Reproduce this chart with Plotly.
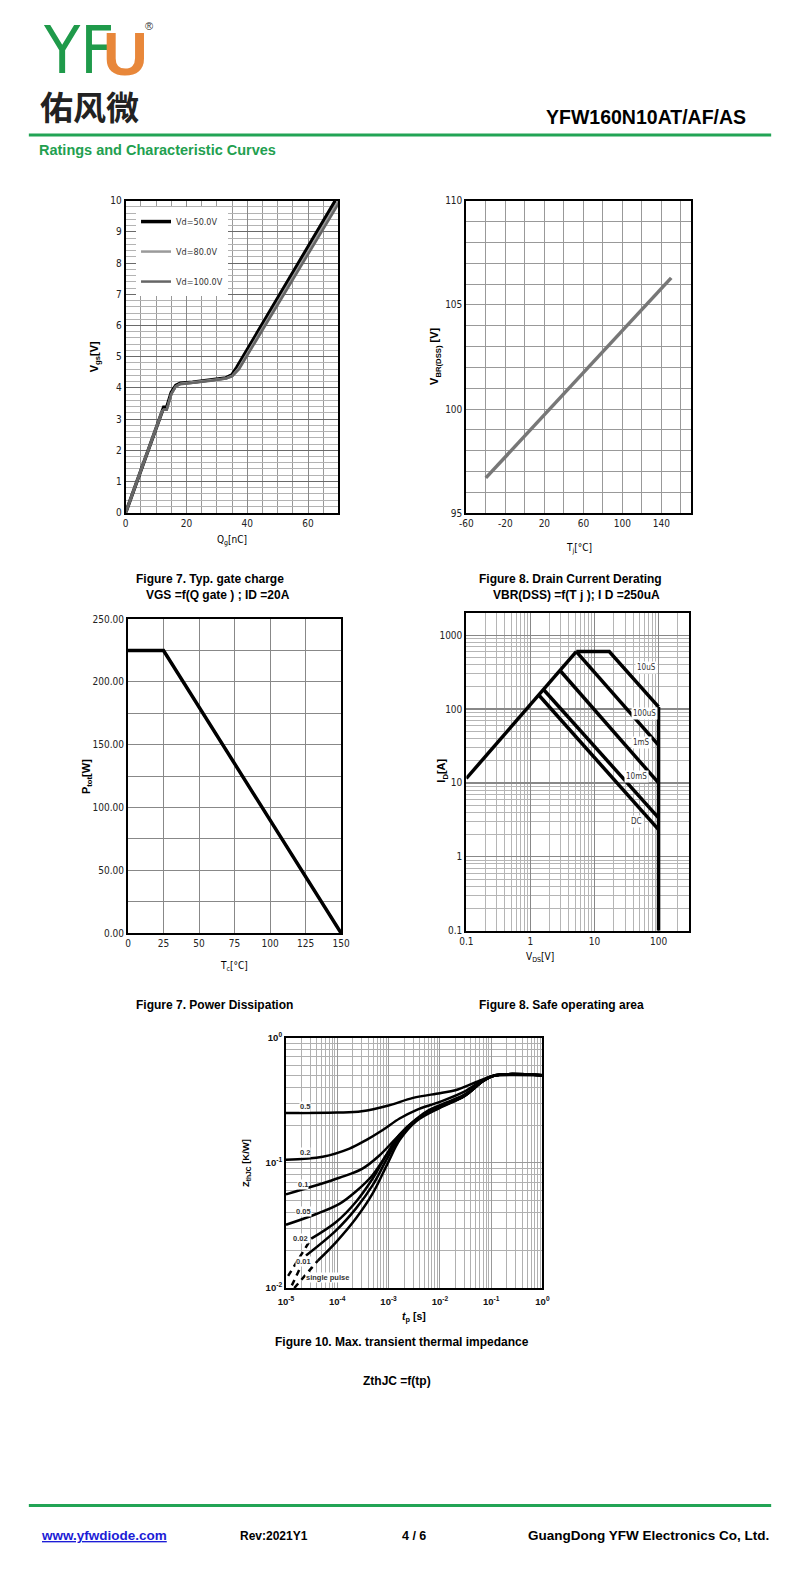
import plotly.graph_objects as go
import numpy as np

W, H = 800, 1590
# calibration of page position -> figure position (measured from previous renders)
def fx(x): return ((x - 9.2) / 0.977) / W
def fy(y): return 1 - ((y - 7.3) / 0.990) / H

NARROW = "Liberation Sans Narrow, Arial Narrow, DejaVu Sans Condensed, sans-serif"
ARIAL = "Liberation Sans, Arial, sans-serif"

# ---------------- data ----------------
# Figure 7: gate charge
qg_50 = [0, 12, 12.5, 13.5, 15, 16.5, 18, 22, 28, 33, 35, 36.5, 69]
vgs_50 = [0, 3.3, 3.38, 3.38, 3.85, 4.08, 4.15, 4.18, 4.25, 4.32, 4.42, 4.65, 10]
qg_80 = [0, 12, 12.5, 13.5, 15, 16.5, 18, 22, 28, 33, 35, 37, 70]
vgs_80 = [0, 3.25, 3.3, 3.3, 3.8, 4.05, 4.13, 4.17, 4.24, 4.3, 4.38, 4.6, 10]
qg_100 = [0, 12, 12.5, 13.5, 15, 16.5, 18, 22, 28, 33, 35, 37.3, 70.3]
vgs_100 = [0, 3.25, 3.3, 3.3, 3.8, 4.05, 4.12, 4.16, 4.23, 4.3, 4.37, 4.6, 9.95]
gate_names = ["Vd=50.0V", "Vd=80.0V", "Vd=100.0V"]

# Figure 8: VBR(DSS) vs Tj
tj = [-40, 150]
vbr = [96.7, 106.3]
tj_ticks = [-60, -20, 20, 60, 100, 140]
tj_ticktext = ["-60", "-20", "20", "60", "100", "140"]

# Power dissipation
tc = [0, 25, 150]
ptot = [225, 225, 0]

# Safe operating area
rds_v, rds_i = [0.1, 5.2], [11.5, 600]
us10_v, us10_i = [5.2, 17, 100], [600, 600, 107]
us100_v, us100_i = [5.2, 100], [600, 32.6]
ms1_v, ms1_i = [2.9, 100], [333, 10]
ms10_v, ms10_i = [1.6, 100], [184, 3.37]
dc_v, dc_i = [1.35, 100], [155, 2.34]
lim_v, lim_i = [100, 100], [0.1, 107]
soa_labels = ["10uS", "100uS", "1mS", "10mS", "DC"]
soa_label_v = [64, 61, 55, 46, 46]
soa_label_i = [360, 87, 35, 12.4, 3.05]

# Thermal impedance
t_05 = [1e-5, 1e-4, 3e-4, 1e-3, 3e-3, 1e-2, 2e-2, 5e-2, 1e-1, 1.5e-1, 1]
z_05 = [0.25, 0.252, 0.258, 0.287, 0.33, 0.36, 0.38, 0.44, 0.49, 0.5, 0.5]
t_02 = [1e-5, 5.2e-5, 1.73e-4, 3.65e-4, 7.7e-4, 1.64e-3, 3.46e-3, 1e-2, 3e-2, 7e-2, 1.2e-1, 1]
z_02 = [0.106, 0.112, 0.13, 0.152, 0.183, 0.226, 0.264, 0.307, 0.37, 0.46, 0.5, 0.5]
t_01 = [1e-5, 1.1e-4, 3.1e-4, 6.7e-4, 1.4e-3, 3e-3, 5.4e-3, 1e-2, 3e-2, 7e-2, 1.2e-1, 1]
z_01 = [0.056, 0.076, 0.09, 0.115, 0.157, 0.213, 0.256, 0.289, 0.35, 0.45, 0.5, 0.5]
t_005 = [1e-5, 3.9e-5, 1.1e-4, 2.3e-4, 4.9e-4, 9e-4, 1.64e-3, 3.46e-3, 1e-2, 3e-2, 7e-2, 1.2e-1, 1]
z_005 = [0.032, 0.039, 0.047, 0.059, 0.08, 0.115, 0.166, 0.22, 0.28, 0.345, 0.45, 0.5, 0.5]
t_002 = [3.1e-5, 9.5e-5, 2.3e-4, 4.9e-4, 9e-4, 1.64e-3, 3.46e-3, 1e-2, 3e-2, 7e-2, 1.2e-1, 1]
z_002 = [0.0248, 0.0337, 0.0487, 0.075, 0.115, 0.168, 0.222, 0.28, 0.342, 0.45, 0.5, 0.5]
t_001 = [2.46e-5, 9.5e-5, 2.3e-4, 4.9e-4, 9e-4, 1.64e-3, 3.46e-3, 1e-2, 3e-2, 7e-2, 1.2e-1, 1]
z_001 = [0.0182, 0.0289, 0.0431, 0.0663, 0.105, 0.161, 0.22, 0.278, 0.34, 0.45, 0.5, 0.5]
t_sp = [4.2e-5, 9.5e-5, 2.3e-4, 4.9e-4, 9.6e-4, 1.64e-3, 3.46e-3, 1e-2, 3e-2, 7e-2, 1.2e-1, 1]
z_sp = [0.0166, 0.0233, 0.0359, 0.0569, 0.099, 0.152, 0.215, 0.275, 0.34, 0.45, 0.5, 0.5]
# dashed extrapolations
t_002d, z_002d = [1.1e-5, 3.1e-5], [0.0125, 0.0248]
t_001d, z_001d = [1.3e-5, 2.46e-5], [0.0105, 0.0182]
t_spd, z_spd = [1.45e-5, 4.2e-5], [0.01, 0.0166]
zth_labels = ["0.5", "0.2", "0.1", "0.05", "0.02", "0.01", "single pulse"]
zth_label_t = [2.3e-5, 2.3e-5, 2.1e-5, 2.2e-5, 1.9e-5, 2.2e-5, 6.5e-5]
zth_label_z = [0.28, 0.12, 0.067, 0.0406, 0.0251, 0.0163, 0.01225]
zth_ticks_x = [1e-5, 1e-4, 1e-3, 1e-2, 1e-1, 1]
zth_ticktext_x = ["10<sup>-5</sup>", "10<sup>-4</sup>", "10<sup>-3</sup>",
                  "10<sup>-2</sup>", "10<sup>-1</sup>", "10<sup>0</sup>"]
zth_ticks_y = [1e-2, 1e-1, 1]
zth_ticktext_y = ["10<sup>-2</sup>", "10<sup>-1</sup>", "10<sup>0</sup>"]

fig = go.Figure()

# ---- gate charge traces ----
fig.add_trace(go.Scatter(x=qg_50, y=vgs_50, mode="lines", name=gate_names[0], legendgroup="a",
                         line=dict(color="black", width=3.5), xaxis="x", yaxis="y"))
fig.add_trace(go.Scatter(x=qg_80, y=vgs_80, mode="lines", name=gate_names[1], legendgroup="b",
                         line=dict(color="#9a9a9a", width=2.5), xaxis="x", yaxis="y"))
fig.add_trace(go.Scatter(x=qg_100, y=vgs_100, mode="lines", name=gate_names[2], legendgroup="c",
                         line=dict(color="#666666", width=2.5), xaxis="x", yaxis="y"))

# ---- VBR ----
fig.add_trace(go.Scatter(x=tj, y=vbr, mode="lines", showlegend=False,
                         line=dict(color="#777777", width=3.5), xaxis="x2", yaxis="y2"))
# ---- Power dissipation ----
fig.add_trace(go.Scatter(x=tc, y=ptot, mode="lines", showlegend=False,
                         line=dict(color="black", width=3.5), xaxis="x3", yaxis="y3"))
# ---- SOA ----
for vv, ii in [(rds_v, rds_i), (us10_v, us10_i), (us100_v, us100_i), (ms1_v, ms1_i),
               (ms10_v, ms10_i), (dc_v, dc_i), (lim_v, lim_i)]:
    fig.add_trace(go.Scatter(x=vv, y=ii, mode="lines", showlegend=False,
                             line=dict(color="black", width=3.5), xaxis="x4", yaxis="y4"))
# ---- Thermal ----
for tt, zz in [(t_05, z_05), (t_02, z_02), (t_01, z_01), (t_005, z_005),
               (t_002, z_002), (t_001, z_001), (t_sp, z_sp)]:
    fig.add_trace(go.Scatter(x=tt, y=zz, mode="lines", showlegend=False, line_shape="spline",
                             line=dict(color="black", width=2.5), xaxis="x5", yaxis="y5"))
for tt, zz in [(t_002d, z_002d), (t_001d, z_001d), (t_spd, z_spd)]:
    fig.add_trace(go.Scatter(x=tt, y=zz, mode="lines", showlegend=False,
                             line=dict(color="black", width=2.5, dash="6px,5px"), xaxis="x5", yaxis="y5"))

tickf = dict(family=NARROW, size=10, color="#222")

def lin_axis(domain, anchor, rng, dtick, tick0, grid, minor_dtick, minor_grid, **kw):
    d = dict(domain=domain, anchor=anchor, range=rng, dtick=dtick, tick0=tick0,
             showgrid=True, gridcolor=grid, gridwidth=1, zeroline=False,
             showline=True, linecolor="black", linewidth=2, mirror=True, ticks="",
             tickfont=tickf, fixedrange=True)
    if minor_dtick:
        d["minor"] = dict(dtick=minor_dtick, tick0=tick0, showgrid=True, gridcolor=minor_grid, gridwidth=1)
    d.update(kw)
    return d

layout = dict(
    width=W, height=H, margin=dict(l=0, r=0, t=0, b=0),
    paper_bgcolor="white", plot_bgcolor="white",
    showlegend=True,
    legend=dict(x=fx(137), y=fy(207), xanchor="left", yanchor="top", bgcolor="white",
                font=dict(family=NARROW, size=9, color="#333"), itemwidth=30,
                tracegroupgap=11, borderwidth=0),
)
layout["xaxis"] = lin_axis([fx(126.7), fx(339)], "y", [0, 70], 20, 0, "#888", 5, "#999")
layout["yaxis"] = lin_axis([fy(512), fy(200.7)], "x", [0, 10], 1, 0, "#6a6a6a", 0.2, "#b3b3b3")
layout["xaxis2"] = lin_axis([fx(466.7), fx(690.7)], "y2", [-60, 170], 40, -60, "#999", 20, "#999",
                            tickmode="array", tickvals=tj_ticks, ticktext=tj_ticktext)
layout["yaxis2"] = lin_axis([fy(512.7), fy(200.7)], "x2", [95, 110], 5, 95, "#999", 1, "#999")
layout["xaxis3"] = lin_axis([fx(129), fx(341.7)], "y3", [0, 150], 25, 0, "#888", None, None)
layout["yaxis3"] = lin_axis([fy(931.7), fy(618.3)], "x3", [0, 250], 50, 0, "#888", 25, "#888",
                            tickformat=".2f")

def log_axis(domain, anchor, rng, tickvals, ticktext, font, grid, minor_grid):
    return dict(domain=domain, anchor=anchor, type="log", range=rng, tickvals=tickvals,
                ticktext=ticktext, showgrid=True, gridcolor=grid, gridwidth=1.2, zeroline=False,
                showline=True, linecolor="black", linewidth=2, mirror=True, ticks="",
                tickfont=font, fixedrange=True,
                minor=dict(dtick="D1", showgrid=True, gridcolor=minor_grid, gridwidth=1, ticks=""))

layout["xaxis4"] = log_axis([fx(466.7), fx(689.3)], "y4", [-1, 2.48], [0.1, 1, 10, 100],
                            ["0.1", "1", "10", "100"], tickf, "#888", "#b5b5b5")
layout["yaxis4"] = log_axis([fy(929.3), fy(611.7)], "x4", [-1, 3.307], [0.1, 1, 10, 100, 1000],
                            ["0.1", "1", "10", "100", "1000"], tickf, "#888", "#b5b5b5")
boldf = dict(family=ARIAL, size=9.5, color="#111", weight="bold")
layout["xaxis5"] = log_axis([fx(286.7), fx(542.7)], "y5", [-5, 0], zth_ticks_x, zth_ticktext_x,
                            boldf, "#999", "#b0b0b0")
layout["yaxis5"] = log_axis([fy(1286), fy(1036)], "x5", [-2, 0], zth_ticks_y, zth_ticktext_y,
                            boldf, "#999", "#b0b0b0")
layout["xaxis5"]["ticklabelstandoff"] = 4
fig.update_layout(**layout)

ann = []
def A(text, x, y, size=12, family=ARIAL, color="black", xanchor="left", yanchor="middle", **kw):
    d = dict(text=text, x=fx(x), y=fy(y), xref="paper", yref="paper", showarrow=False,
             xanchor=xanchor, yanchor=yanchor, font=dict(size=size, family=family, color=color))
    d.update(kw)
    ann.append(d)

# Header
A("YF", 43, 51, size=66, family="DejaVu Sans Condensed, DejaVu Sans", color="#1f9a4a", borderpad=0)
A("<b>U</b>", 126, 54, size=62, family=ARIAL, color="#e8873a", xanchor="center", borderpad=0)
A("®", 150, 26, size=11, color="#333", xanchor="center")
A("<b>佑风微</b>", 91, 106, size=33, family="Noto Sans CJK SC", color="#222", xanchor="center")
A("<b>YFW160N10AT/AF/AS</b>", 748, 117, size=19.5, xanchor="right")
A("<b>Ratings and Characteristic Curves</b>", 38, 150, size=14.5, color="#22a04f")

# Captions
A("<b>Figure 7. Typ. gate charge</b>", 135, 578)
A("<b>VGS =f(Q gate ) ; ID =20A</b>", 145, 594)
A("<b>Figure 8. Drain Current Derating</b>", 477, 578)
A("<b>VBR(DSS) =f(T j ); I D =250uA</b>", 491, 594)
A("<b>Figure 7. Power Dissipation</b>", 135, 1003)
A("<b>Figure 8. Safe operating area</b>", 477, 1003)
A("<b>Figure 10. Max. transient thermal impedance</b>", 274, 1340)
A("<b>ZthJC =f(tp)</b>", 362, 1379)

# Footer
A("<b><u>www.yfwdiode.com</u></b>", 40, 1533, size=13.5, color="#1c1cd6")
A("<b>Rev:2021Y1</b>", 239, 1533, size=12)
A("<b>4 / 6</b>", 400, 1533, size=12.5)
A("<b>GuangDong YFW Electronics Co, Ltd.</b>", 771, 1533, size=13.5, xanchor="right")

# Axis titles
A("Q<sub>g</sub>[nC]", 233, 540, size=10, family=NARROW, xanchor="center")
A("<b>V<sub>gs</sub>[V]</b>", 96, 356, size=11, xanchor="center", textangle=-90)
A("T<sub>j</sub>[°C]", 579, 548, size=10, family=NARROW, xanchor="center")
A("<b>V<sub>BR(DSS)</sub> [V]</b>", 436, 356, size=11, xanchor="center", textangle=-90)
A("T<sub>c</sub>[°C]", 235, 965, size=10, family=NARROW, xanchor="center")
A("<b>P<sub>tot</sub>[W]</b>", 88, 775, size=11, xanchor="center", textangle=-90)
A("V<sub>DS</sub>[V]", 540, 956, size=10, family=NARROW, xanchor="center")
A("<b>I<sub>D</sub>[A]</b>", 443, 770, size=11, xanchor="center", textangle=-90)
A("<b><i>t</i><sub>p</sub> [s]</b>", 414, 1315, size=10.5, xanchor="center")
A("<b>Z<sub>thJC</sub> [K/W]</b>", 247, 1161, size=9.5, xanchor="center", textangle=-90)

# SOA labels
for t, v, i in zip(soa_labels, soa_label_v, soa_label_i):
    ann.append(dict(text=t, x=np.log10(v), y=np.log10(i), xref="x4", yref="y4", showarrow=False,
                    font=dict(size=8, family=NARROW, color="#333"), bgcolor="white"))
# Thermal labels
for t, tv, zv in zip(zth_labels, zth_label_t, zth_label_z):
    ann.append(dict(text="<b>" + t + "</b>", x=np.log10(tv), y=np.log10(zv), xref="x5", yref="y5",
                    showarrow=False, font=dict(size=7.5, family=ARIAL, color="#333"),
                    bgcolor="white", borderpad=0))

fig.update_layout(annotations=ann)

shapes = [
    dict(type="line", xref="paper", yref="paper", x0=fx(30), x1=fx(771), y0=fy(135), y1=fy(135),
         line=dict(color="#22a455", width=3)),
    dict(type="line", xref="paper", yref="paper", x0=fx(30), x1=fx(771), y0=fy(1503), y1=fy(1503),
         line=dict(color="#22a455", width=3)),
]
fig.update_layout(shapes=shapes)

fig.write_html("out.html", config={"staticPlot": True},
               post_script="document.body.style.margin='0';")
